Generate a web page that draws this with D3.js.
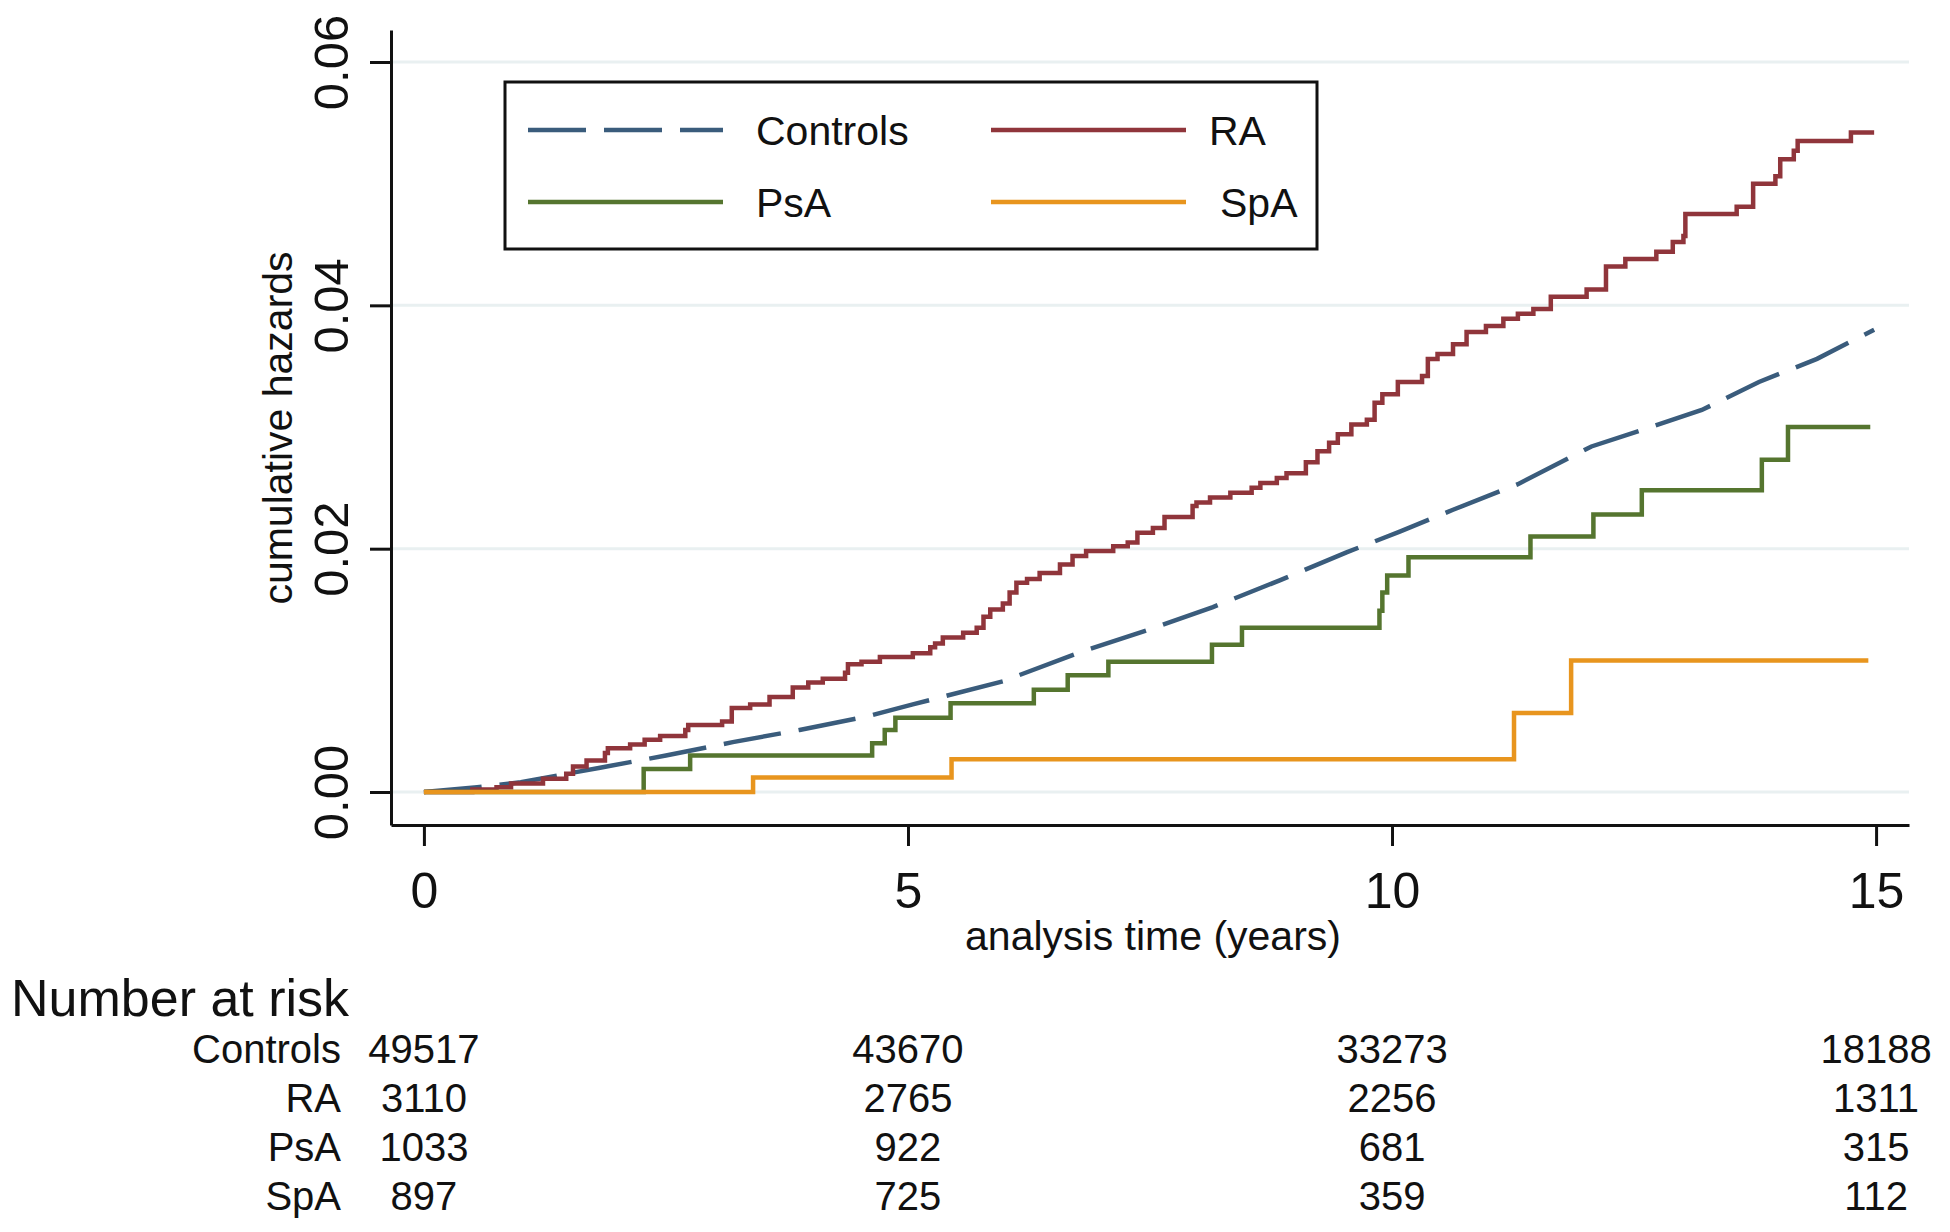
<!DOCTYPE html>
<html>
<head>
<meta charset="utf-8">
<script src="https://cdn.jsdelivr.net/npm/d3@7"></script>
<style>
  body { margin: 0; background: #fff; }
  svg { font-family: "Liberation Sans", Arial, sans-serif; }
</style>
</head>
<body>
<svg width="1950" height="1232"></svg>
<script>
// values (analysis time in years, cumulative hazard)
const controlsTime = [0, 0.55, 1, 1.82, 2.5, 3.19, 3.88, 4.57, 5.05, 5.98, 6.78, 7.47, 8.15, 8.84, 9.53, 10.08, 10.63, 11.3, 12.06, 12.6, 13.2, 13.79, 14.39, 14.98];
const controlsHaz = [0, 0.0004, 0.0008, 0.002, 0.003, 0.0041, 0.0051, 0.0062, 0.0072, 0.0091, 0.0115, 0.0133, 0.0152, 0.0174, 0.0197, 0.0214, 0.0232, 0.0253, 0.0284, 0.0298, 0.0314, 0.0337, 0.0356, 0.038];

const raTime = [0, 0.5, 0.75, 0.9, 1.23, 1.47, 1.54, 1.68, 1.87, 1.9, 2.13, 2.28, 2.44, 2.7, 2.73, 3.08, 3.18, 3.37, 3.57, 3.81, 3.97, 4.12, 4.35, 4.38, 4.52, 4.71, 5.05, 5.23, 5.28, 5.36, 5.57, 5.71, 5.78, 5.85, 5.98, 6.05, 6.12, 6.23, 6.36, 6.57, 6.7, 6.84, 7.12, 7.27, 7.37, 7.53, 7.65, 7.94, 7.98, 8.12, 8.33, 8.55, 8.64, 8.81, 8.91, 9.11, 9.23, 9.35, 9.44, 9.58, 9.74, 9.82, 9.9, 10.06, 10.31, 10.37, 10.47, 10.63, 10.77, 10.97, 11.15, 11.3, 11.46, 11.64, 12.01, 12.21, 12.41, 12.73, 12.9, 13.01, 13.03, 13.56, 13.73, 13.96, 14.01, 14.15, 14.19, 14.74, 14.98];
const raHaz = [0, 0.0002, 0.0004, 0.0007, 0.0011, 0.0015, 0.0021, 0.0026, 0.0032, 0.0036, 0.0039, 0.0043, 0.0046, 0.0051, 0.0055, 0.0058, 0.0069, 0.0072, 0.0078, 0.0086, 0.009, 0.0093, 0.0098, 0.0105, 0.0107, 0.0111, 0.0114, 0.0119, 0.0122, 0.0127, 0.0131, 0.0135, 0.0144, 0.015, 0.0155, 0.0164, 0.0172, 0.0175, 0.018, 0.0187, 0.0194, 0.0198, 0.0202, 0.0205, 0.0213, 0.0217, 0.0226, 0.0235, 0.0238, 0.0242, 0.0246, 0.025, 0.0254, 0.0258, 0.0262, 0.0271, 0.028, 0.0287, 0.0294, 0.0302, 0.0306, 0.032, 0.0327, 0.0337, 0.0342, 0.0356, 0.036, 0.0368, 0.0378, 0.0383, 0.0389, 0.0393, 0.0397, 0.0407, 0.0413, 0.0432, 0.0438, 0.0444, 0.0452, 0.0457, 0.0475, 0.0481, 0.05, 0.0506, 0.052, 0.0527, 0.0535, 0.0542, 0.0542];

const psaTime = [0, 2.27, 2.75, 4.63, 4.76, 4.87, 5.44, 6.3, 6.65, 7.07, 8.14, 8.45, 9.87, 9.9, 9.95, 10.17, 11.43, 12.08, 12.58, 13.82, 14.09, 14.94];
const psaHaz = [0, 0.0019, 0.003, 0.004, 0.0051, 0.0061, 0.0073, 0.0084, 0.0096, 0.0107, 0.0121, 0.0135, 0.0149, 0.0164, 0.0178, 0.0193, 0.021, 0.0228, 0.0248, 0.0273, 0.03, 0.03];

const spaTime = [0, 3.4, 5.45, 11.26, 11.85, 14.92];
const spaHaz = [0, 0.0012, 0.0027, 0.0065, 0.0108, 0.0108];

const groups = ["Controls", "RA", "PsA", "SpA"];
const xTicks = [0, 5, 10, 15];
const yTicks = [0, 0.02, 0.04, 0.06];

// number at risk at 0, 5, 10, 15 years
const riskControls = [49517, 43670, 33273, 18188];
const riskRA = [3110, 2765, 2256, 1311];
const riskPsA = [1033, 922, 681, 315];
const riskSpA = [897, 725, 359, 112];

const svg = d3.select("svg");

const x = d3.scaleLinear().domain([-0.34, 15.34]).range([391, 1909]);
const y = d3.scaleLinear().domain([-0.00271, 0.06263]).range([825, 30]);

// grid lines
svg.append("g").selectAll("line")
	.data(yTicks)
	.enter()
	.append("line")
		.attr("x1", x.range()[0])
		.attr("x2", x.range()[1])
		.attr("y1", d => y(d))
		.attr("y2", d => y(d))
		.attr("stroke", "#e9f0f1")
		.attr("stroke-width", 3);

// series
const series = [
	{name: "Controls", t: controlsTime, h: controlsHaz, color: "#3a5c7c", dash: "58,18", curve: d3.curveLinear},
	{name: "RA", t: raTime, h: raHaz, color: "#90353b", dash: null, curve: d3.curveStepAfter},
	{name: "PsA", t: psaTime, h: psaHaz, color: "#55752f", dash: null, curve: d3.curveStepAfter},
	{name: "SpA", t: spaTime, h: spaHaz, color: "#e8951e", dash: null, curve: d3.curveStepAfter}
];

series.forEach(s => {
	const line = d3.line()
		.x((d, i) => x(s.t[i]))
		.y(d => y(d))
		.curve(s.curve);
	svg.append("path")
		.attr("d", line(s.h))
		.attr("fill", "none")
		.attr("stroke", s.color)
		.attr("stroke-width", 4.5)
		.attr("stroke-dasharray", s.dash);
});

// axes
const yAxis = svg.append("g")
	.attr("transform", `translate(${x.range()[0]},0)`)
	.call(d3.axisLeft(y).tickValues(yTicks).tickSize(21).tickSizeOuter(0).tickFormat(d3.format(".2f")));
yAxis.selectAll("text")
	.attr("transform", "rotate(-90)")
	.attr("x", 0)
	.attr("y", -43)
	.attr("dy", 0)
	.attr("text-anchor", "middle")
	.attr("font-size", 49)
	.attr("font-family", "Liberation Sans, Arial, sans-serif")
	.attr("fill", "#111");

const xAxis = svg.append("g")
	.attr("transform", `translate(0,${y.range()[0]})`)
	.call(d3.axisBottom(x).tickValues(xTicks).tickSize(21).tickSizeOuter(0));
xAxis.selectAll("text")
	.attr("y", 83)
	.attr("dy", 0)
	.attr("font-size", 50)
	.attr("font-family", "Liberation Sans, Arial, sans-serif")
	.attr("fill", "#111");

svg.selectAll(".domain, .tick line")
	.attr("stroke", "#111")
	.attr("stroke-width", 3);

// axis titles
svg.append("text")
	.attr("transform", "translate(292,428) rotate(-90)")
	.attr("text-anchor", "middle")
	.attr("font-size", 41)
	.attr("fill", "#111")
	.text("cumulative hazards");

svg.append("text")
	.attr("x", 1153)
	.attr("y", 950)
	.attr("text-anchor", "middle")
	.attr("font-size", 41)
	.attr("fill", "#111")
	.text("analysis time (years)");

// legend
const legend = svg.append("g");
legend.append("rect")
	.attr("x", 505).attr("y", 82)
	.attr("width", 812).attr("height", 167)
	.attr("fill", "#fff")
	.attr("stroke", "#111")
	.attr("stroke-width", 3);

const legendPos = [
	{lx: 528, ty: 130, tx: 756},
	{lx: 991, ty: 130, tx: 1209},
	{lx: 528, ty: 202, tx: 756},
	{lx: 991, ty: 202, tx: 1220}
];
series.forEach((s, i) => {
	const p = legendPos[i];
	legend.append("line")
		.attr("x1", p.lx).attr("x2", p.lx + 195)
		.attr("y1", p.ty).attr("y2", p.ty)
		.attr("stroke", s.color)
		.attr("stroke-width", 4.5)
		.attr("stroke-dasharray", s.dash);
	legend.append("text")
		.attr("x", p.tx)
		.attr("y", p.ty + 15)
		.attr("font-size", 41)
		.attr("fill", "#111")
		.text(s.name);
});

// number at risk table
svg.append("text")
	.attr("x", 11)
	.attr("y", 1016)
	.attr("font-size", 52)
	.attr("fill", "#111")
	.text("Number at risk");

const riskRows = [riskControls, riskRA, riskPsA, riskSpA];
riskRows.forEach((row, i) => {
	const base = 1063 + i * 49;
	svg.append("text")
		.attr("x", 341)
		.attr("y", base)
		.attr("text-anchor", "end")
		.attr("font-size", 40)
		.attr("fill", "#111")
		.text(groups[i]);
	svg.append("g").selectAll("text")
		.data(row)
		.enter()
		.append("text")
			.attr("x", (d, j) => x(xTicks[j]))
			.attr("y", base)
			.attr("text-anchor", "middle")
			.attr("font-size", 40)
			.attr("fill", "#111")
			.text(d => d);
});
</script>
</body>
</html>
